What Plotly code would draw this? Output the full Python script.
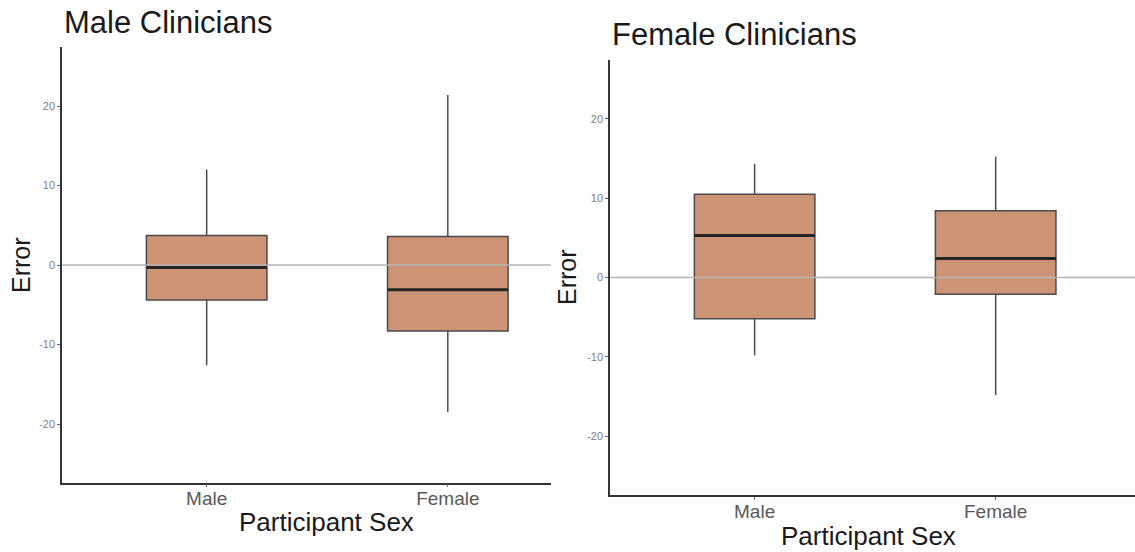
import plotly.graph_objects as go

# Participant sex categories (x axis)
categories = ["Male", "Female"]
positions = [1, 2]

# Error summaries per panel: whiskers, quartiles and medians
male_clin_lower = [-12.6, -18.5]
male_clin_q1 = [-4.4, -8.3]
male_clin_median = [-0.3, -3.1]
male_clin_q3 = [3.7, 3.6]
male_clin_upper = [12.0, 21.4]

female_clin_lower = [-9.8, -14.8]
female_clin_q1 = [-5.2, -2.1]
female_clin_median = [5.3, 2.4]
female_clin_q3 = [10.5, 8.4]
female_clin_upper = [14.3, 15.2]

y_ticks = [-20, -10, 0, 10, 20]
y_tick_text = ["-20", "-10", "0", "10", "20"]

W, H = 1135, 552
FILL = "#CC9474"
EDGE = "#4a4a4a"
FONT = "Liberation Sans, Arial, Helvetica, sans-serif"
BOX_W = 0.5


def px_x(p):
    return p / W


def px_y(p):
    return 1 - p / H


fig = go.Figure()

panels = [
    ("x", "y", male_clin_lower, male_clin_q1, male_clin_median, male_clin_q3, male_clin_upper),
    ("x2", "y2", female_clin_lower, female_clin_q1, female_clin_median, female_clin_q3, female_clin_upper),
]

for xa, ya, lo, q1, med, q3, hi in panels:
    fig.add_trace(go.Box(
        x=positions, lowerfence=lo, q1=q1, median=med, q3=q3, upperfence=hi,
        width=BOX_W, whiskerwidth=0, fillcolor=FILL,
        line=dict(color=EDGE, width=1.5), boxpoints=False,
        xaxis=xa, yaxis=ya, showlegend=False, hoverinfo="skip",
    ))
    # thicker median bars
    for p, m in zip(positions, med):
        fig.add_trace(go.Scatter(
            x=[p - BOX_W / 2, p + BOX_W / 2], y=[m, m], mode="lines",
            line=dict(color="#262626", width=3), xaxis=xa, yaxis=ya,
            showlegend=False, hoverinfo="skip",
        ))
    # reference line at zero, drawn over the boxes
    fig.add_shape(type="line", xref=f"{xa} domain", yref=ya, x0=0, x1=1, y0=0, y1=0,
                  line=dict(color="#b5b5b5", width=1.3), layer="above")

axis_common = dict(showline=True, linecolor="#333333", linewidth=1.5, ticks="outside",
                   ticklen=3, tickcolor="#666666", tickwidth=1, showgrid=False,
                   zeroline=False)

xtick_font = dict(size=19, color="#595959")
ytick_font = dict(size=11, color="#808080")

fig.update_layout(
    width=W, height=H,
    margin=dict(l=0, r=0, t=0, b=0),
    paper_bgcolor="white", plot_bgcolor="white",
    font=dict(family=FONT),
    xaxis=dict(domain=[px_x(62), px_x(551)], range=[0.4, 2.428],
               tickvals=positions, ticktext=categories, ticklabelstandoff=-5,
               tickfont=xtick_font, anchor="y", **axis_common),
    yaxis=dict(domain=[px_y(482.7), px_y(46.7)], range=[-27.38, 27.46],
               tickvals=y_ticks, ticktext=y_tick_text, tickfont=ytick_font,
               anchor="x", **axis_common),
    xaxis2=dict(domain=[px_x(610), 1], range=[0.4, 2.578],
                tickvals=positions, ticktext=categories, ticklabelstandoff=-5,
                tickfont=xtick_font, anchor="y2", **axis_common),
    yaxis2=dict(domain=[px_y(495), px_y(60)], range=[-27.4, 27.4],
                tickvals=y_ticks, ticktext=y_tick_text, tickfont=ytick_font,
                anchor="x2", **axis_common),
)

def label(text, x, y, size, angle=0, xanchor="center"):
    fig.add_annotation(text=text, xref="paper", yref="paper", x=px_x(x), y=px_y(y),
                       xanchor=xanchor, yanchor="middle", showarrow=False,
                       textangle=angle, font=dict(size=size, color="#1a1a1a", family=FONT))

label("Male Clinicians", 62, 22.5, 31, xanchor="left")
label("Female Clinicians", 610, 35, 31, xanchor="left")
label("Error", 21, 265, 25, angle=-90)
label("Error", 567, 277, 25, angle=-90)
label("Participant Sex", 327, 521.5, 26)
label("Participant Sex", 868, 536, 26)

fig.write_html("out.html")
